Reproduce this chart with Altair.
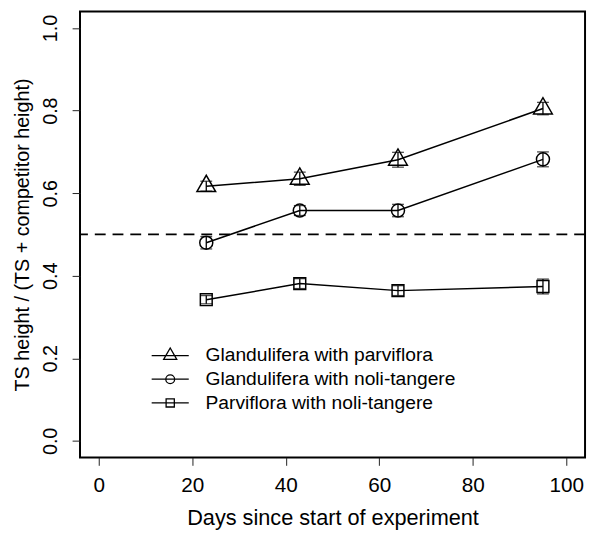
import altair as alt
import pandas as pd

# ---- data ----
days = [23, 43, 64, 95]
series_names = [
    "Glandulifera with parviflora",
    "Glandulifera with noli-tangere",
    "Parviflora with noli-tangere",
]
glp_mean = [0.617, 0.635, 0.681, 0.805]
glp_se = [0.012, 0.016, 0.018, 0.015]
gln_mean = [0.480, 0.558, 0.558, 0.682]
gln_se = [0.015, 0.012, 0.015, 0.018]
pan_mean = [0.342, 0.381, 0.364, 0.374]
pan_se = [0.010, 0.012, 0.012, 0.018]
x_ticks = [0, 20, 40, 60, 80, 100]
y_ticks = [0.0, 0.2, 0.4, 0.6, 0.8, 1.0]
reference_line = [0.5]

rows = []
for name, means, ses in zip(series_names, [glp_mean, gln_mean, pan_mean], [glp_se, gln_se, pan_se]):
    for d, m, s in zip(days, means, ses):
        rows.append({"series": name, "day": d, "value": m, "lo": m - s, "hi": m + s})
df = pd.DataFrame(rows)
ref_df = pd.DataFrame({"value": reference_line})

FONT = "Liberation Sans"

# plot symbols (size 400 -> unit 10 px), open like R pch 2, 1, 0
pt_shapes = [
    "M-0.95,0.55L0,-1.1L0.95,0.55Z",
    "M0.66,0A0.66,0.66 0 1,1 -0.66,0A0.66,0.66 0 1,1 0.66,0Z",
    "M-0.6,-0.6H0.6V0.6H-0.6Z",
]
# legend symbols: line through symbol (size 256 -> unit 8 px)
lg_shapes = [
    "M-2.35,0H2.35M-0.83,0.48L0,-0.96L0.83,0.48Z",
    "M-2.35,0H2.35M0.56,0A0.56,0.56 0 1,1 -0.56,0A0.56,0.56 0 1,1 0.56,0Z",
    "M-2.35,0H2.35M-0.52,-0.52H0.52V0.52H-0.52Z",
]

W, H = 512, 452

x_axis = alt.Axis(
    values=x_ticks, title="Days since start of experiment", grid=False, domain=False,
    tickSize=8, tickColor="#222", tickWidth=1, labelFont=FONT, labelFontSize=21,
    labelColor="black", labelPadding=10, labelFlush=False, labelOverlap=False,
    titleFont=FONT, titleFontSize=22, titleFontWeight="normal", titleColor="black",
    titleX=W / 2, titleY=61, titleBaseline="middle", titleAlign="center",
)
y_axis = alt.Axis(
    values=y_ticks, format=".1f", title="TS height / (TS + competitor height)", grid=False,
    domain=False, tickSize=8, tickColor="#222", tickWidth=1, labelFont=FONT,
    labelFontSize=20, labelColor="black", labelAngle=270, labelAlign="center",
    labelBaseline="alphabetic", labelPadding=16, labelFlush=False, labelOverlap=False,
    titleFont=FONT, titleFontSize=20, titleFontWeight="normal", titleColor="black",
    titleAngle=270, titleX=-58, titleY=H / 2, titleAlign="center", titleBaseline="middle",
)
x_scale = alt.Scale(domain=[-4, 104], nice=False, zero=False)
y_scale = alt.Scale(domain=[-0.04, 1.04], nice=False, zero=False)

X = alt.X("day:Q", scale=x_scale, axis=x_axis)
def Y(field):
    return alt.Y(f"{field}:Q", scale=y_scale, axis=y_axis)

base = alt.Chart(df)

ref = alt.Chart(ref_df).mark_rule(color="black", strokeWidth=1.8, strokeDash=[11, 7]).encode(y=Y("value"))

lines = base.mark_line(color="black", strokeWidth=1.5).encode(
    x=X, y=Y("value"), detail="series:N", order="day:Q"
)
bars = base.mark_rule(color="black", strokeWidth=1.3).encode(x=X, y=Y("lo"), y2="hi:Q")
caps_lo = base.mark_tick(orient="horizontal", size=12, thickness=1.3, color="black").encode(x=X, y=Y("lo"))
caps_hi = base.mark_tick(orient="horizontal", size=12, thickness=1.3, color="black").encode(x=X, y=Y("hi"))

points = base.mark_point(size=400, filled=False, color="black", strokeWidth=1.5, opacity=1).encode(
    x=X, y=Y("value"),
    shape=alt.Shape("series:N", scale=alt.Scale(domain=series_names, range=pt_shapes), legend=None),
)
legend_layer = base.mark_point(size=256, filled=False, color="black", opacity=0).encode(
    x=X, y=Y("value"),
    shape=alt.Shape(
        "series:N",
        scale=alt.Scale(domain=series_names, range=lg_shapes),
        legend=alt.Legend(
            title=None, orient="none", legendX=81.7, legendY=339, symbolSize=256,
            symbolStrokeWidth=1.3, symbolStrokeColor="black", symbolFillColor="transparent",
            symbolOpacity=1, labelFont=FONT, labelFontSize=19.5, labelColor="black",
            labelOffset=26, rowPadding=3, padding=0, labelLimit=400,
        ),
    ),
)

chart = (
    alt.layer(ref, lines, bars, caps_lo, caps_hi, points, legend_layer)
    .resolve_scale(shape="independent")
    .properties(
        width=W, height=H,
        padding={"left": 73, "top": 0, "right": 3, "bottom": 70},
        autosize=alt.AutoSizeParams(type="none"),
        background="white",
    )
    .configure_view(stroke="black", strokeWidth=2)
)

chart.save("out.html", embed_options={"renderer": "svg", "actions": False})
